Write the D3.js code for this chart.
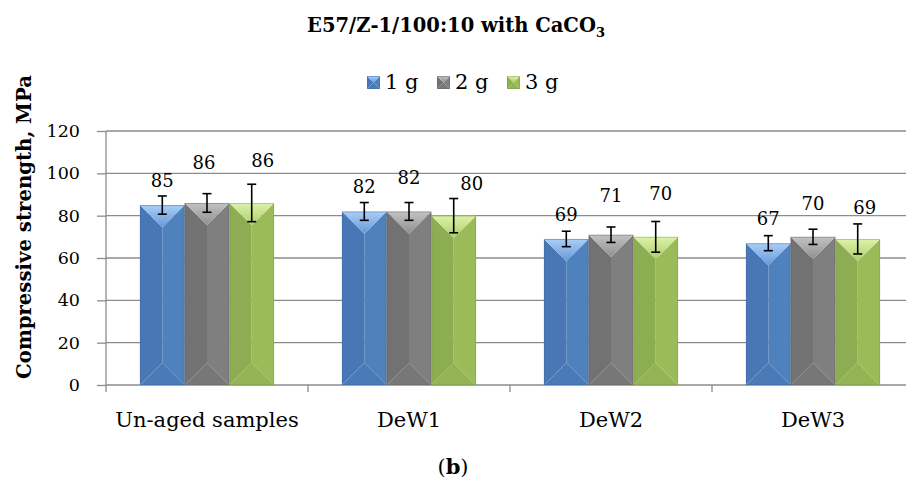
<!DOCTYPE html>
<html>
<head>
<meta charset="utf-8">
<script src="https://cdn.jsdelivr.net/npm/d3@7"></script>
<style>
  html, body { margin: 0; padding: 0; background: #fff; }
  svg { display: block; }
  text { font-family: "DejaVu Serif", serif; fill: #000; }
</style>
</head>
<body>
<svg id="chart" width="906" height="483"></svg>
<script>
// ---------- data ----------
const categories = ["Un-aged samples", "DeW1", "DeW2", "DeW3"];
const seriesNames = ["1 g", "2 g", "3 g"];
const values1g = [85, 82, 69, 67];
const values2g = [86, 82, 71, 70];
const values3g = [86, 80, 70, 69];
const errors1g = [4.3, 4.2, 3.65, 3.55];
const errors2g = [4.4, 4.2, 3.65, 3.6];
const errors3g = [8.85, 8.1, 7.25, 7.1];
const yTickValues = [0, 20, 40, 60, 80, 100, 120];
const titleMain = "E57/Z-1/100:10 with CaCO";
const titleSub = "3";
const yAxisTitle = "Compressive strength, MPa";

// ---------- layout / style ----------
const W = 906, H = 483;
const plot = { left: 106, right: 914, top: 131, bottom: 385 };
const palette = [
  { left: "#4977b6", right: "#4f81bd", topA: "#a9cff7", topB: "#6798d6", bottom: "#4b7ab8", edge: "#3d6aa6" },
  { left: "#727272", right: "#7f7f7f", topA: "#c2c2c2", topB: "#909090", bottom: "#777777", edge: "#656565" },
  { left: "#8cad51", right: "#9bbb59", topA: "#ddf2a8", topB: "#aecd6c", bottom: "#93b354", edge: "#7f9e47" }
];
// label nudges (px) per series, per category
const labelLift = [[25, 25, 25, 25], [41, 34, 40, 34], [43, 33, 44, 32]];
const labelShift = [[0, 0, 0, 0], [-3, 0, 0, 0], [11, 18, 5, 7]];

const seriesValues = [values1g, values2g, values3g];
const seriesErrors = [errors1g, errors2g, errors3g];

const svg = d3.select("#chart");
svg.append("rect").attr("width", W).attr("height", H).attr("fill", "#fff");

const defs = svg.append("defs");
palette.forEach((p, i) => {
  const g = defs.append("linearGradient").attr("id", "topGrad" + i)
    .attr("x1", 0).attr("y1", 0).attr("x2", 0).attr("y2", 1);
  g.append("stop").attr("offset", "0%").attr("stop-color", p.topA);
  g.append("stop").attr("offset", "100%").attr("stop-color", p.topB);
});

const y = d3.scaleLinear().domain([0, 120]).range([plot.bottom, plot.top]);
const x0 = d3.scaleBand().domain(categories).range([plot.left, plot.right]).padding(0);
const inset = x0.bandwidth() * 0.168;
const x1 = d3.scaleBand().domain(seriesNames).range([inset, x0.bandwidth() - inset]).padding(0);

const gridColor = "#8c8c8c";

// gridlines
svg.append("g").selectAll("line").data(yTickValues.filter(v => v > 0)).join("line")
  .attr("x1", plot.left).attr("x2", plot.right)
  .attr("y1", d => y(d)).attr("y2", d => y(d))
  .attr("stroke", gridColor).attr("stroke-width", 1.3);

// y axis
const yAxis = d3.axisLeft(y).tickValues(yTickValues).tickSize(9).tickPadding(17).tickFormat(d3.format("d"));
const gy = svg.append("g").attr("transform", `translate(${plot.left},0)`).call(yAxis);
gy.attr("font-size", null).attr("font-family", null);
gy.select(".domain").remove();
gy.selectAll(".tick line").attr("stroke", gridColor).attr("stroke-width", 1.3);
gy.selectAll(".tick text").style("font-size", "17.5px").style("font-family", "DejaVu Serif").attr("fill", "#000");
svg.append("line").attr("x1", plot.left).attr("x2", plot.left)
  .attr("y1", plot.top).attr("y2", plot.bottom + 7)
  .attr("stroke", gridColor).attr("stroke-width", 1.3);

// x axis
svg.append("line").attr("x1", plot.left).attr("x2", plot.right)
  .attr("y1", plot.bottom).attr("y2", plot.bottom)
  .attr("stroke", gridColor).attr("stroke-width", 1.3);
svg.append("g").selectAll("line").data(categories.slice(1)).join("line")
  .attr("x1", d => x0(d)).attr("x2", d => x0(d))
  .attr("y1", plot.bottom).attr("y2", plot.bottom + 7)
  .attr("stroke", gridColor).attr("stroke-width", 1.3);
svg.append("g").selectAll("text").data(categories).join("text")
  .attr("x", d => x0(d) + x0.bandwidth() / 2)
  .attr("y", plot.bottom + 42)
  .attr("text-anchor", "middle")
  .attr("font-size", 21)
  .text(d => d);

// bars with bevel facets
function drawBar(g, bx, by, bw, bh, p, si) {
  const hw = bw / 2;
  const t = Math.min(hw, bh / 2);
  const xm = bx + hw;
  g.append("polygon").attr("points", [[bx, by], [xm, by + t], [xm, by + bh - t], [bx, by + bh]].join(" ")).attr("fill", p.left);
  g.append("polygon").attr("points", [[bx + bw, by], [xm, by + t], [xm, by + bh - t], [bx + bw, by + bh]].join(" ")).attr("fill", p.right);
  g.append("polygon").attr("points", [[bx, by + bh], [xm, by + bh - t], [bx + bw, by + bh]].join(" ")).attr("fill", p.bottom);
  g.append("polygon").attr("points", [[bx, by], [bx + bw, by], [xm, by + t]].join(" ")).attr("fill", `url(#topGrad${si})`);
  g.append("rect").attr("x", bx + 0.5).attr("y", by + 0.5).attr("width", bw - 1).attr("height", bh - 1)
    .attr("fill", "none").attr("stroke", p.edge).attr("stroke-opacity", 0.45).attr("stroke-width", 1);
}

const barsG = svg.append("g");
seriesNames.forEach((s, si) => {
  seriesValues[si].forEach((v, ci) => {
    const cat = categories[ci];
    const bx = x0(cat) + x1(s);
    drawBar(barsG, bx, y(v), x1.bandwidth(), y(0) - y(v), palette[si], si);
  });
});

// error bars
const errG = svg.append("g").attr("stroke", "#000").attr("stroke-width", 1.6);
seriesNames.forEach((s, si) => {
  seriesValues[si].forEach((v, ci) => {
    const cx = x0(categories[ci]) + x1(s) + x1.bandwidth() / 2;
    const e = seriesErrors[si][ci];
    errG.append("line").attr("x1", cx).attr("x2", cx).attr("y1", y(v + e)).attr("y2", y(v - e));
    errG.append("line").attr("x1", cx - 4.5).attr("x2", cx + 4.5).attr("y1", y(v + e)).attr("y2", y(v + e));
    errG.append("line").attr("x1", cx - 4.5).attr("x2", cx + 4.5).attr("y1", y(v - e)).attr("y2", y(v - e));
  });
});

// value labels
const lblG = svg.append("g");
seriesNames.forEach((s, si) => {
  seriesValues[si].forEach((v, ci) => {
    const cx = x0(categories[ci]) + x1(s) + x1.bandwidth() / 2 + labelShift[si][ci];
    lblG.append("text")
      .attr("x", cx)
      .attr("y", y(v) - labelLift[si][ci] + 7)
      .attr("text-anchor", "middle")
      .attr("font-size", 18)
      .text(d3.format("d")(v));
  });
});

// title
const title = svg.append("text").attr("x", W / 2 + 3).attr("y", 32)
  .attr("text-anchor", "middle").attr("font-size", 19.5).attr("font-weight", "bold");
title.append("tspan").text(titleMain);
title.append("tspan").attr("font-size", 13).attr("dy", 5).text(titleSub);

// legend
const legendX = [367, 437, 507];
const legG = svg.append("g");
seriesNames.forEach((s, si) => {
  const lx = legendX[si];
  drawBar(legG, lx, 76, 13, 13, palette[si], si);
  legG.append("text").attr("x", lx + 18).attr("y", 89).attr("font-size", 21).text(s);
});

// y axis title
svg.append("text")
  .attr("transform", `translate(31,${227}) rotate(-90)`)
  .attr("text-anchor", "middle")
  .attr("font-size", 19.7)
  .attr("font-weight", "bold")
  .text(yAxisTitle);

// panel label
const pl = svg.append("text").attr("x", W / 2).attr("y", 474).attr("text-anchor", "middle").attr("font-size", 21);
pl.append("tspan").text("(");
pl.append("tspan").attr("font-weight", "bold").text("b");
pl.append("tspan").text(")");
</script>
</body>
</html>
